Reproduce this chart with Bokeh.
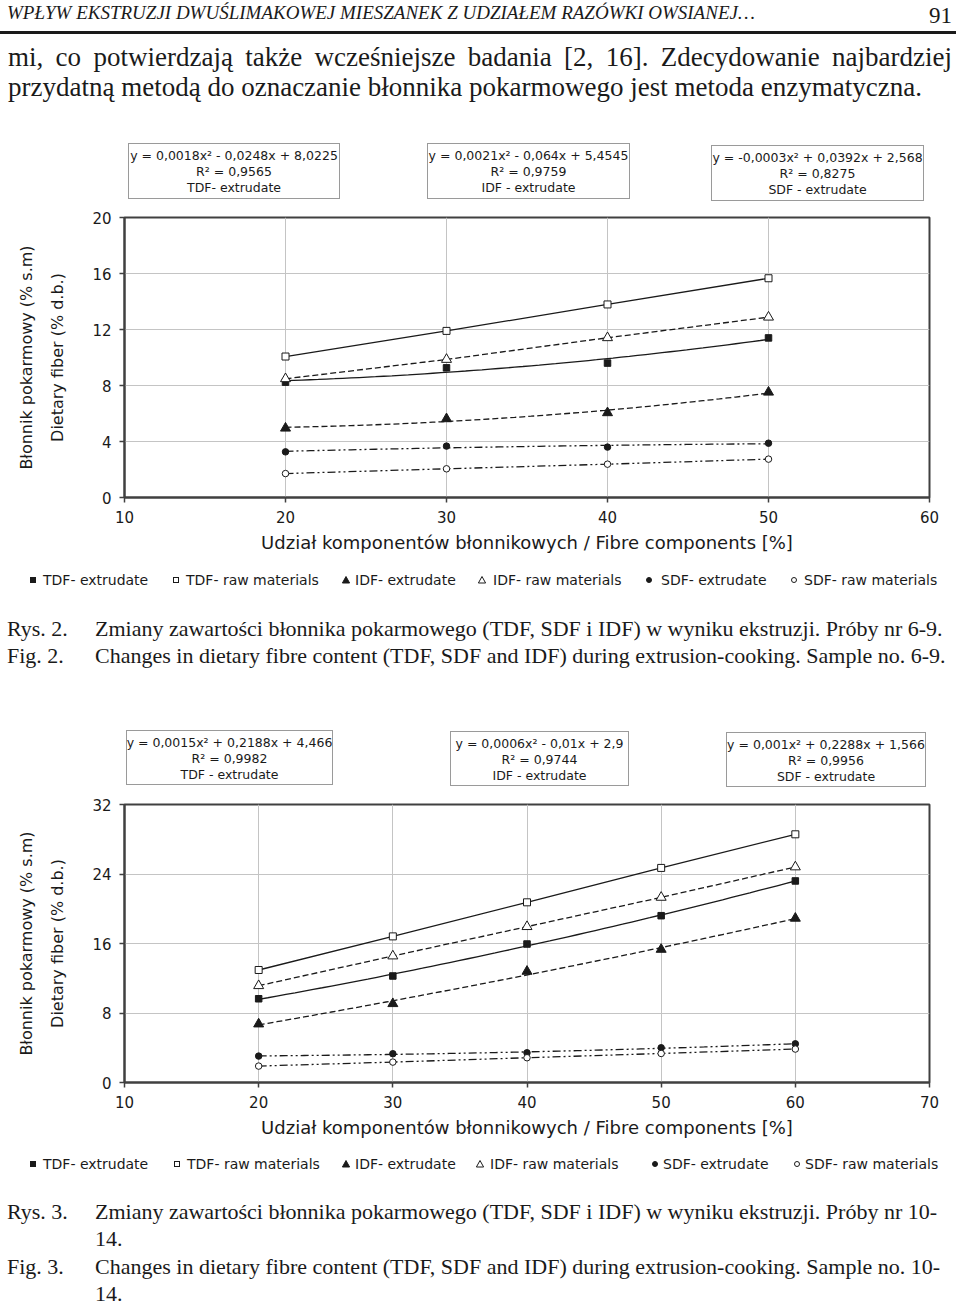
import html
import numpy as np
from bokeh.plotting import figure
from bokeh.layouts import column
from bokeh.models import Range1d, FixedTicker, LinearAxis, Div
from bokeh.embed import file_html
from bokeh.resources import INLINE

# ---------------- data ----------------
x1 = [20, 30, 40, 50]
tdf_ext1 = [8.24, 9.26, 9.60, 11.40]
tdf_raw1 = [10.07, 11.90, 13.79, 15.66]
idf_ext1 = [4.95, 5.62, 6.05, 7.52]
idf_raw1 = [8.48, 9.86, 11.41, 12.88]
sdf_ext1 = [3.26, 3.67, 3.60, 3.88]
sdf_raw1 = [1.71, 2.05, 2.38, 2.74]

x2 = [20, 30, 40, 50, 60]
tdf_ext2 = [9.64, 12.26, 15.94, 19.20, 23.20]
tdf_raw2 = [12.95, 16.82, 20.74, 24.70, 28.57]
idf_ext2 = [6.73, 9.07, 12.79, 15.32, 18.90]
idf_raw2 = [11.14, 14.56, 17.94, 21.31, 24.81]
sdf_ext2 = [3.04, 3.31, 3.42, 4.00, 4.45]
sdf_raw2 = [1.89, 2.35, 2.85, 3.34, 3.85]

x1_ticks = [10, 20, 30, 40, 50, 60]
y1_ticks = [0, 4, 8, 12, 16, 20]
x2_ticks = [10, 20, 30, 40, 50, 60, 70]
y2_ticks = [0, 8, 16, 24, 32]

legend_labels = ["TDF- extrudate", "TDF- raw materials", "IDF- extrudate",
                 "IDF- raw materials", "SDF- extrudate", "SDF- raw materials"]

eq1 = [["y = 0,0018x² - 0,0248x + 8,0225", "R² = 0,9565", "TDF- extrudate"],
       ["y = 0,0021x² - 0,064x + 5,4545", "R² = 0,9759", "IDF - extrudate"],
       ["y = -0,0003x² + 0,0392x + 2,568", "R² = 0,8275", "SDF - extrudate"]]
eq2 = [["y = 0,0015x² + 0,2188x + 4,466", "R² = 0,9982", "TDF - extrudate"],
       ["y = 0,0006x² - 0,01x + 2,9", "R² = 0,9744", "IDF - extrudate"],
       ["y = 0,001x² + 0,2288x + 1,566", "R² = 0,9956", "SDF - extrudate"]]

x_title = "Udział komponentów błonnikowych / Fibre components [%]"
y_title_outer = "Błonnik pokarmowy (% s.m)"
y_title_inner = "Dietary fiber (% d.b.)"

header = "WPŁYW EKSTRUZJI DWUŚLIMAKOWEJ MIESZANEK Z UDZIAŁEM RAZÓWKI OWSIANEJ…"
page_no = "91"
body = ["mi, co potwierdzają także wcześniejsze badania [2, 16]. Zdecydowanie najbardziej",
        "przydatną metodą do oznaczanie błonnika pokarmowego jest metoda enzymatyczna."]
cap2 = [("Rys. 2.", "Zmiany zawartości błonnika pokarmowego (TDF, SDF i IDF) w wyniku ekstruzji. Próby nr 6-9."),
        ("Fig. 2.", "Changes in dietary fibre content (TDF, SDF and IDF) during extrusion-cooking. Sample no. 6-9.")]
cap3 = [("Rys. 3.", "Zmiany zawartości błonnika pokarmowego (TDF, SDF i IDF) w wyniku ekstruzji. Próby nr 10-"),
        ("", "14."),
        ("Fig. 3.", "Changes in dietary fibre content (TDF, SDF and IDF) during extrusion-cooking. Sample no. 10-"),
        ("", "14.")]

# ---------------- styles ----------------
INK = "#1a1a1a"
W = 960
SERIF = "Liberation Serif"
SANS = "DejaVu Sans"

styles = [  # marker, filled, size, dash, trend
    ("square", True, 6.5, "solid", True),
    ("square", False, 7, "solid", False),
    ("triangle", True, 10, "6 3", True),
    ("triangle", False, 10, "6 3", False),
    ("circle", True, 6.5, "8 3 2 3 2 3", True),
    ("circle", False, 6.5, "8 3 2 3 2 3", False),
]


# ---------------- HTML helpers for the text bands ----------------
def span(x, base, s, size, font=SERIF, align="left", style="normal", k=0.84, extra=""):
    top = base - k * size
    if align == "left":
        pos = f"left:{x}px;"
    elif align == "center":
        pos = f"left:{x - 400}px;width:800px;text-align:center;"
    else:
        pos = f"right:{W - x}px;"
    return (f'<div style="position:absolute;{pos}top:{top:.1f}px;font-family:\'{font}\';'
            f'font-size:{size}px;line-height:{size}px;white-space:nowrap;font-style:{style};'
            f'color:{INK};{extra}">{html.escape(s)}</div>')


def marker_svg(kind, filled, cx, cy):
    fill = INK if filled else "white"
    if kind == "square":
        shape = f'<rect x="2.5" y="2.5" width="5" height="5" fill="{fill}" stroke="{INK}" stroke-width="1"/>'
    elif kind == "triangle":
        shape = f'<polygon points="5,1.5 8.6,8 1.4,8" fill="{fill}" stroke="{INK}" stroke-width="1"/>'
    else:
        shape = f'<circle cx="5" cy="5" r="2.5" fill="{fill}" stroke="{INK}" stroke-width="1"/>'
    return (f'<svg style="position:absolute;left:{cx - 5}px;top:{cy - 5}px" width="10" height="10">'
            f'{shape}</svg>')


leg_marks = [("square", True), ("square", False), ("triangle", True),
             ("triangle", False), ("circle", True), ("circle", False)]


def legend_html(y_top, y, mx, tx):
    out = []
    for (kind, filled), m, t, lab in zip(leg_marks, mx, tx, legend_labels):
        out.append(marker_svg(kind, filled, m, y - y_top))
        out.append(span(t, y - y_top + 5, lab, 14, font=SANS))
    return out


def boxes_html(y_top, boxes, eqs, line_ys):
    out = []
    for (l, r, t, b), lines, ys in zip(boxes, eqs, line_ys):
        out.append(f'<div style="position:absolute;left:{l}px;top:{t - y_top}px;width:{r - l}px;'
                   f'height:{b - t}px;border:1px solid #9a9a9a;box-sizing:border-box;background:white"></div>')
        for s, yy in zip(lines, ys):
            out.append(span((l + r) / 2, yy - y_top + 4.5, s, 12.5, font=SANS, align="center"))
    return out


def div_band(h, items):
    inner = "".join(items)
    text = (f'<div style="position:relative;width:{W}px;height:{h}px;overflow:hidden;'
            f'background:white">{inner}</div>')
    return Div(text=text, width=W, height=h, margin=0)


# ---------------- chart helper ----------------
def chart(xs, series, xr, yr, xt, yt, height, bt, bb):
    p = figure(width=W, height=height, x_range=Range1d(*xr), y_range=Range1d(*yr),
               min_border_left=124, min_border_right=31, min_border_top=bt, min_border_bottom=bb,
               output_backend="svg", toolbar_location=None, margin=0)
    p.background_fill_color = "white"
    p.border_fill_color = "white"
    p.outline_line_color = "#404040"
    p.outline_line_width = 2
    p.xaxis.ticker = FixedTicker(ticks=xt)
    p.yaxis.ticker = FixedTicker(ticks=yt)
    for ax in (p.xaxis, p.yaxis):
        ax.axis_line_color = "#404040"
        ax.axis_line_width = 2
        ax.major_tick_line_color = "#404040"
        ax.major_tick_line_width = 1.5
        ax.major_tick_in = 0
        ax.major_tick_out = 5
        ax.minor_tick_line_color = None
        ax.major_label_text_font = SANS
        ax.major_label_text_font_size = "15px"
        ax.major_label_text_color = INK
        ax.axis_label_text_font = SANS
        ax.axis_label_text_font_style = "normal"
        ax.axis_label_text_color = INK
    p.xaxis.major_label_standoff = 8
    p.yaxis.major_label_standoff = 8
    p.xaxis.axis_label = x_title
    p.xaxis.axis_label_text_font_size = "18px"
    p.xaxis.axis_label_standoff = 6
    p.yaxis.axis_label = y_title_inner
    p.yaxis.axis_label_text_font_size = "16px"
    p.yaxis.axis_label_standoff = 22

    outer = LinearAxis(ticker=FixedTicker(ticks=[]), axis_label=y_title_outer,
                       axis_line_color=None, major_tick_line_color=None,
                       minor_tick_line_color=None, major_label_text_font_size="0px",
                       axis_label_text_font=SANS, axis_label_text_font_size="16px",
                       axis_label_text_font_style="normal", axis_label_text_color=INK,
                       axis_label_standoff=10, major_tick_out=0, major_tick_in=0,
                       major_label_standoff=0)
    p.add_layout(outer, "left")

    p.grid.grid_line_color = "#c4c4c4"
    p.grid.grid_line_width = 1
    p.xgrid.ticker = FixedTicker(ticks=xt)
    p.ygrid.ticker = FixedTicker(ticks=yt)

    xd = np.linspace(xs[0], xs[-1], 60)
    for vals, (mk, filled, sz, dash, trend) in zip(series, styles):
        if trend:
            c = np.polyfit(xs, vals, 2)
            p.line(xd, np.polyval(c, xd), line_color=INK, line_width=1.3, line_dash=dash)
        else:
            p.line(xs, vals, line_color=INK, line_width=1.3, line_dash=dash)
        p.scatter(xs, vals, marker=mk, size=sz, fill_color=INK if filled else "white",
                  line_color=INK, line_width=1)
    return p


# ---------------- band A (y 0..210) ----------------
itemsA = [
    span(7, 19, header, 19, style="italic"),
    span(952, 23, page_no, 23, align="right"),
    '<div style="position:absolute;left:0;top:31px;width:956px;height:2.5px;background:#1a1a1a"></div>',
    span(8, 67, body[0], 27, extra="width:944px;text-align:justify;text-align-last:justify;"),
    span(8, 97, body[1], 27),
]
itemsA += boxes_html(0, [(128, 340, 143, 199), (427, 630, 143, 199), (711, 924, 145, 201)], eq1,
                     [(156, 172, 188), (156, 172, 188), (158, 174, 190)])
divA = div_band(210, itemsA)

# ---------------- band B: chart 1 (y 210..560) ----------------
pB = chart(x1, [tdf_ext1, tdf_raw1, idf_ext1, idf_raw1, sdf_ext1, sdf_raw1],
           (10, 60), (0, 20), x1_ticks, y1_ticks, 350, 7, 63)

# ---------------- band C (y 560..797) ----------------
itemsC = legend_html(560, 580, [33, 176, 346, 482, 649, 794], [43, 186, 355, 493, 661, 804])
for (a, b), yy in zip(cap2, [636, 663]):
    itemsC.append(span(7, yy - 560, a, 22))
    itemsC.append(span(95, yy - 560, b, 22))
itemsC += boxes_html(560, [(126, 333, 730, 785), (450, 629, 731, 786), (726, 926, 732, 787)], eq2,
                     [(743, 759, 775), (744, 760, 776), (745, 761, 777)])
divC = div_band(237, itemsC)

# ---------------- band E: chart 2 (y 797..1150) ----------------
pE = chart(x2, [tdf_ext2, tdf_raw2, idf_ext2, idf_raw2, sdf_ext2, sdf_raw2],
           (10, 70), (0, 32), x2_ticks, y2_ticks, 353, 7, 68)

# ---------------- band F (y 1150..1304) ----------------
itemsF = legend_html(1150, 1164, [33, 177, 346, 480, 655, 797], [43, 187, 355, 490, 663, 805])
for (a, b), yy in zip(cap3, [1219, 1246, 1274, 1301]):
    if a:
        itemsF.append(span(7, yy - 1150, a, 22))
    itemsF.append(span(95, yy - 1150, b, 22))
divF = div_band(154, itemsF)

layout = column(divA, pB, divC, pE, divF, spacing=0)
open("out.html", "w").write(file_html(layout, INLINE))
